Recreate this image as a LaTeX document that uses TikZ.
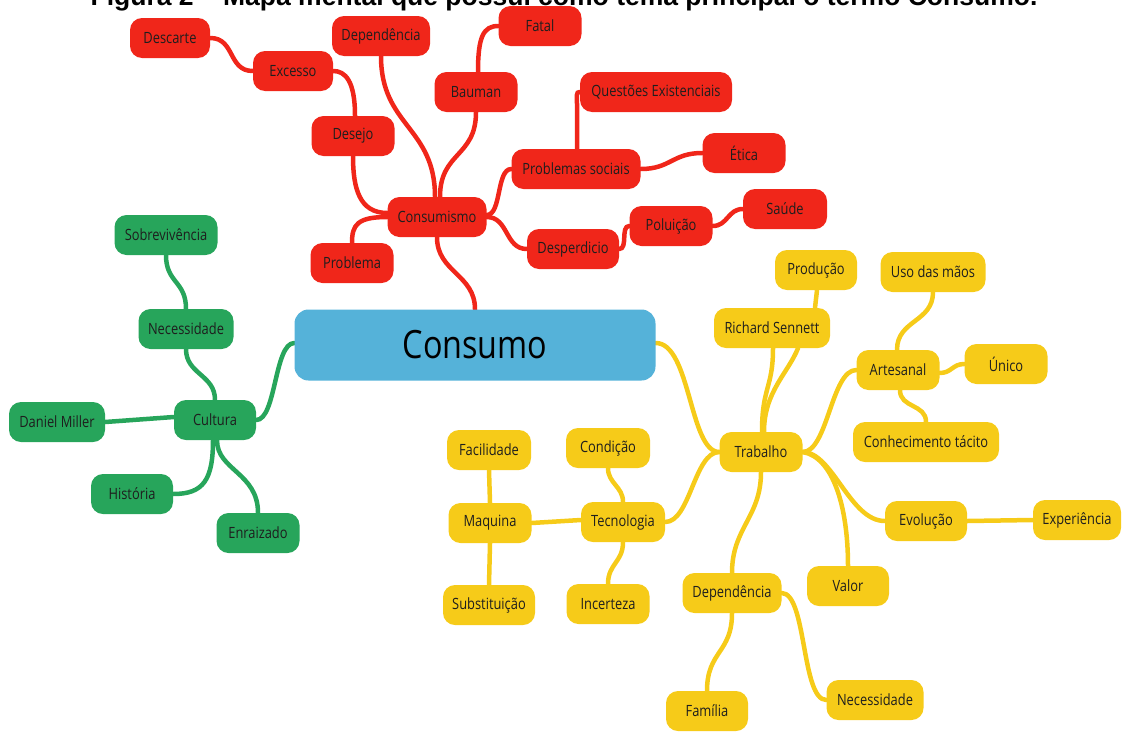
\documentclass[tikz,border=0pt]{standalone}
\usepackage{fontspec}
\setmainfont{Open Sans}
\newfontfamily\nodefont{Open Sans}[FakeStretch=0.83]
\newfontfamily\titlefont{Liberation Sans}
\usetikzlibrary{backgrounds}
\definecolor{mmred}{HTML}{F0261A}
\definecolor{mmgreen}{HTML}{27A55B}
\definecolor{mmyellow}{HTML}{F6CB19}
\definecolor{mmblue}{HTML}{55B2D9}
\definecolor{mmtext}{HTML}{1E1E1E}
\tikzset{
  mmnode/.style={rounded corners=12pt, minimum height=40pt, inner sep=0pt, text=mmtext,
    font=\nodefont\fontsize{15.5}{18}\selectfont},
  rednode/.style={mmnode, fill=mmred},
  greennode/.style={mmnode, fill=mmgreen},
  yellownode/.style={mmnode, fill=mmyellow},
  mainnode/.style={mmnode, fill=mmblue, rounded corners=14pt, minimum height=71pt,
    font=\nodefont\fontsize{39}{44}\selectfont, text=black},
  link/.style={line width=4.5pt, line cap=round},
  redlink/.style={link, draw=mmred},
  greenlink/.style={link, draw=mmgreen},
  yellowlink/.style={link, draw=mmyellow},
}
\begin{document}
\begin{tikzpicture}[x=1pt,y=-1pt]
\clip (0,0) rectangle (1124,731);

\node[anchor=base, font=\titlefont\bfseries\fontsize{26.5}{30}\selectfont] (title) at (564,5.5)
  {Figura 2 – Mapa mental que possui como tema principal o termo Consumo.};

% central
\node[mainnode, minimum width=361pt] (consumo) at (475,345) {Consumo};

% red
\node[rednode, minimum width=80pt] (descarte) at (170,38) {Descarte};
\node[rednode, minimum width=80pt] (excesso) at (293,71) {Excesso};
\node[rednode, minimum width=98pt] (depr) at (381,36) {Dependência};
\node[rednode, minimum width=83pt] (fatal) at (540,26) {Fatal};
\node[rednode, minimum width=83pt] (bauman) at (476,92) {Bauman};
\node[rednode, minimum width=152pt] (questoes) at (656,92) {Questões Existenciais};
\node[rednode, minimum width=83pt] (desejo) at (353,136) {Desejo};
\node[rednode, minimum width=129pt] (probsoc) at (576,169) {Problemas sociais};
\node[rednode, minimum width=83pt] (etica) at (744,153) {Ética};
\node[rednode, minimum width=99pt] (consumismo) at (437,217) {Consumismo};
\node[rednode, minimum width=84pt] (saude) at (785,209) {Saúde};
\node[rednode, minimum width=83pt] (poluicao) at (671,226) {Poluição};
\node[rednode, minimum width=92pt] (desperdicio) at (573,249) {Desperdicio};
\node[rednode, minimum width=83pt] (problema) at (352,263) {Problema};

% green
\node[greennode, minimum width=103pt] (sobrev) at (166,235) {Sobrevivência};
\node[greennode, minimum width=95pt] (necg) at (186,329) {Necessidade};
\node[greennode, minimum width=82pt] (cultura) at (215,420) {Cultura};
\node[greennode, minimum width=96pt] (miller) at (57,422) {Daniel Miller};
\node[greennode, minimum width=82pt] (historia) at (132,494) {História};
\node[greennode, minimum width=83pt] (enraizado) at (258,533) {Enraizado};

% yellow
\node[yellownode, minimum width=82pt] (producao) at (816,270) {Produção};
\node[yellownode, minimum width=105pt] (uso) at (933,272) {Uso das mãos};
\node[yellownode, minimum width=116pt] (sennett) at (772,328) {Richard Sennett};
\node[yellownode, minimum width=83pt] (artesanal) at (898,370) {Artesanal};
\node[yellownode, minimum width=83pt] (unico) at (1006,364) {Único};
\node[yellownode, minimum width=146pt] (tacito) at (926,442) {Conhecimento tácito};
\node[yellownode, minimum width=83pt] (trabalho) at (761,452) {Trabalho};
\node[yellownode, minimum width=84pt] (facilidade) at (489,450) {Facilidade};
\node[yellownode, minimum width=84pt] (condicao) at (608,448) {Condição};
\node[yellownode, minimum width=83pt] (maquina) at (490,523) {Maquina};
\node[yellownode, minimum width=84pt] (tecnologia) at (623,522) {Tecnologia};
\node[yellownode, minimum width=82pt] (evolucao) at (926,521) {Evolução};
\node[yellownode, minimum width=88pt] (experiencia) at (1077,520) {Experiência};
\node[yellownode, minimum width=82pt] (valor) at (848,586) {Valor};
\node[yellownode, minimum width=99pt] (depy) at (732,593) {Dependência};
\node[yellownode, minimum width=92pt] (substituicao) at (489,605) {Substituição};
\node[yellownode, minimum width=83pt] (incerteza) at (608,604) {Incerteza};
\node[yellownode, minimum width=97pt] (necy) at (875,700) {Necessidade};
\node[yellownode, minimum width=82pt] (familia) at (707,711) {Família};

\begin{scope}[on background layer]
% red links
\draw[redlink] (consumo.north) .. controls +(0,-35) and +(0,35) .. (consumismo.south);
\draw[redlink] ([yshift=4pt]consumismo.west) .. controls +(-28,0) and +(0,32) .. (desejo.south);
\draw[redlink] ([xshift=2pt]desejo.north) .. controls +(0,-35) and +(12,0) .. (excesso.east);
\draw[redlink] (excesso.west) .. controls +(-25,0) and +(25,0) .. (descarte.east);
\draw[redlink] ([xshift=-2pt]consumismo.north) .. controls +(0,-70) and +(0,70) .. (depr.south);
\draw[redlink] ([xshift=3pt]consumismo.north) .. controls +(0,-45) and +(0,45) .. (bauman.south);
\draw[redlink] ([xshift=2pt]bauman.north) .. controls +(0,-35) and +(-15,0) .. (fatal.west);
\draw[redlink] ([yshift=2pt]consumismo.east) .. controls +(15,0) and +(-15,0) .. (probsoc.west);
\draw[redlink] (consumismo.east) .. controls +(22,0) and +(-22,0) .. (desperdicio.west);
\draw[redlink] (consumismo.west) .. controls +(-30,0) and +(0,-18) .. (problema.north);
\draw[redlink] ([xshift=1pt]probsoc.north) -- ++(0,-45) .. controls +(0,-8) and +(-4,0) .. (questoes.west);
\draw[redlink] (probsoc.east) .. controls +(30,0) and +(-30,0) .. (etica.west);
\draw[redlink] (desperdicio.east) .. controls +(9,0) and +(-9,0) .. (poluicao.west);
\draw[redlink] (poluicao.east) .. controls +(15,0) and +(-15,0) .. (saude.west);
% green links
\draw[greenlink] ([yshift=2pt]consumo.west) .. controls +(-20,0) and +(20,0) .. (cultura.east);
\draw[greenlink] (cultura.north) .. controls +(0,-25) and +(0,25) .. (necg.south);
\draw[greenlink] (necg.north) .. controls +(0,-28) and +(0,28) .. (sobrev.south);
\draw[greenlink] ([yshift=3pt]cultura.west) -- (miller.east);
\draw[greenlink] ([xshift=-2pt]cultura.south) .. controls +(0,40) and +(30,0) .. (historia.east);
\draw[greenlink] ([xshift=2pt]cultura.south) .. controls +(0,30) and +(0,-40) .. (enraizado.north);
% yellow links
\draw[yellowlink] ([yshift=2pt]consumo.east) .. controls +(35,0) and +(-30,0) .. (trabalho.west);
\draw[yellowlink] ([xshift=1pt]trabalho.north) .. controls +(0,-45) and +(0,40) .. ([xshift=1pt]sennett.south);
\draw[yellowlink] ([xshift=3pt]trabalho.north) .. controls +(0,-40) and +(-10,25) .. ([xshift=26pt]sennett.south);
\draw[yellowlink] ([xshift=43pt]sennett.north) -- ([xshift=1pt]producao.south);
\draw[yellowlink] (trabalho.east) .. controls +(25,0) and +(-25,0) .. (artesanal.west);
\draw[yellowlink] ([xshift=-1pt]artesanal.north) .. controls +(0,-30) and +(0,30) .. (uso.south);
\draw[yellowlink] ([yshift=-3pt]artesanal.east) .. controls +(12,0) and +(-12,0) .. (unico.west);
\draw[yellowlink] ([xshift=2pt]artesanal.south) .. controls +(0,18) and +(0,-18) .. (tacito.north);
\draw[yellowlink] (trabalho.east) .. controls +(30,0) and +(-35,0) .. (evolucao.west);
\draw[yellowlink] (trabalho.east) .. controls +(30,5) and +(0,-60) .. (valor.north);
\draw[yellowlink] (evolucao.east) -- (experiencia.west);
\draw[yellowlink] (trabalho.west) .. controls +(-25,0) and +(25,0) .. (tecnologia.east);
\draw[yellowlink] (trabalho.south) .. controls +(0,45) and +(0,-45) .. (depy.north);
\draw[yellowlink] (tecnologia.north) .. controls +(0,-15) and +(0,15) .. (condicao.south);
\draw[yellowlink] (tecnologia.south) .. controls +(0,20) and +(0,-20) .. (incerteza.north);
\draw[yellowlink] ([yshift=2pt]tecnologia.west) -- (maquina.east);
\draw[yellowlink] (maquina.north) -- (facilidade.south);
\draw[yellowlink] (maquina.south) -- (substituicao.north);
\draw[yellowlink] (depy.south) .. controls +(0,40) and +(0,-40) .. (familia.north);
\draw[yellowlink] (depy.east) .. controls +(25,0) and +(-25,0) .. (necy.west);
\end{scope}
\end{tikzpicture}
\end{document}
